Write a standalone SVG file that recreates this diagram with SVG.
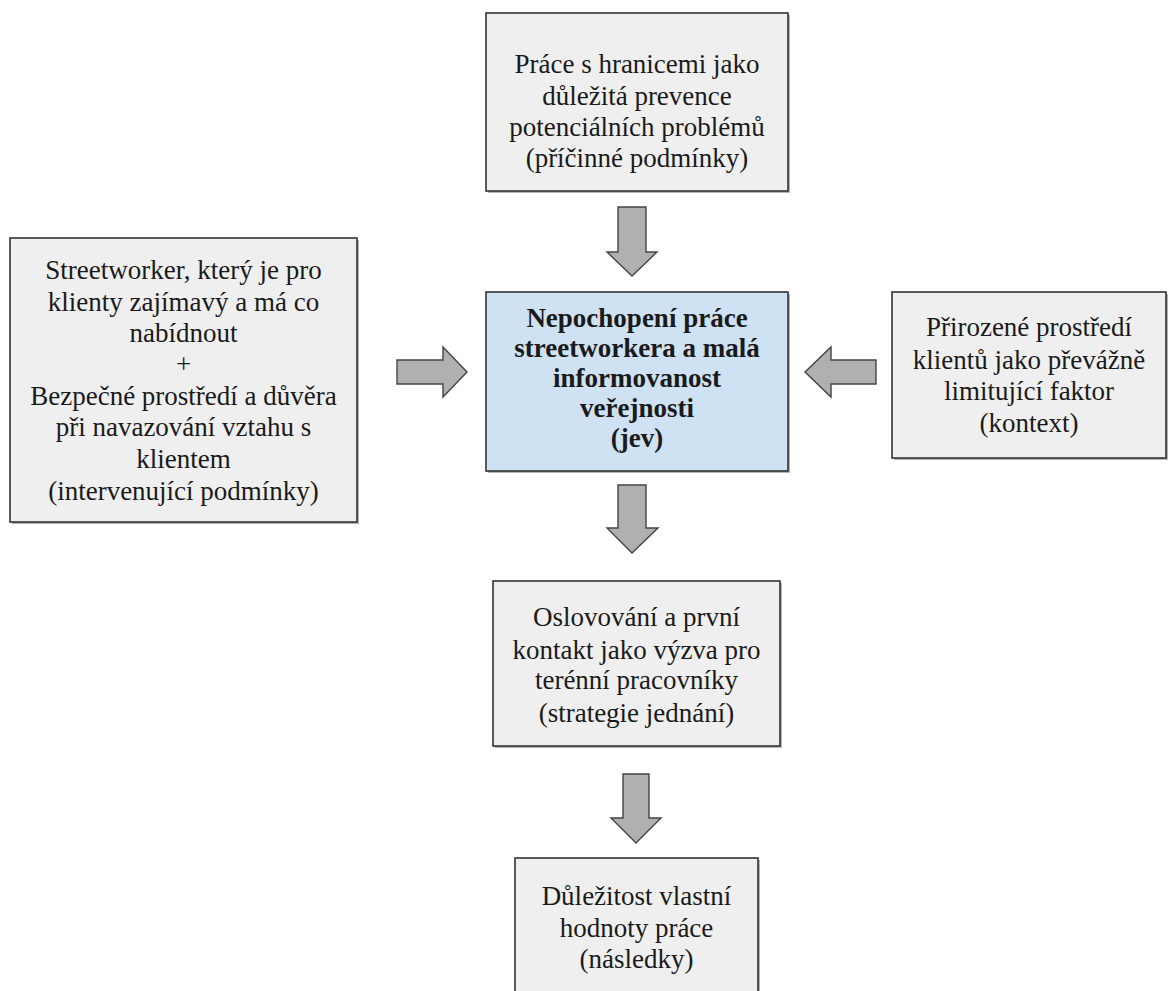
<svg xmlns="http://www.w3.org/2000/svg" width="1168" height="991" viewBox="0 0 1168 991">
<style>
.box{fill:#efefef;stroke:#333;stroke-width:1.6}
.center{fill:#cfe2f3;stroke:#333;stroke-width:1.6}
.shadow{fill:#b5b5b5}
.t{font-family:'Liberation Serif','DejaVu Serif',serif;font-size:27px;fill:#1a1a1a;text-anchor:middle}
.b{font-weight:bold}
.arrow{fill:#b0b0b0;stroke:#444;stroke-width:1.4;stroke-linejoin:miter}
</style>
<rect width="1168" height="991" fill="#ffffff"/>
<g id="node-top">
<rect class="shadow" x="488" y="15" width="302" height="178"/>
<rect class="box" x="486" y="13" width="302" height="178"/>
<text class="t" font-family="Liberation Serif, serif" x="637" y="73">Práce s hranicemi jako</text>
<text class="t" x="637" y="105">důležitá prevence</text>
<text class="t" x="637" y="136">potenciálních problémů</text>
<text class="t" x="637" y="167">(příčinné podmínky)</text>
</g>
<g id="node-left">
<rect class="shadow" x="12" y="240" width="347" height="284"/>
<rect class="box" x="10" y="238" width="347" height="284"/>
<text class="t" x="183.5" y="279">Streetworker, který je pro</text>
<text class="t" x="183.5" y="311">klienty zajímavý a má co</text>
<text class="t" x="183.5" y="342">nabídnout</text>
<text class="t" x="183.5" y="373">+</text>
<text class="t" x="183.5" y="405">Bezpečné prostředí a důvěra</text>
<text class="t" x="183.5" y="436">při navazování vztahu s</text>
<text class="t" x="183.5" y="468">klientem</text>
<text class="t" x="183.5" y="500">(intervenující podmínky)</text>
</g>
<g id="node-center">
<rect class="shadow" x="488" y="294" width="302" height="179"/>
<rect class="center" x="486" y="292" width="302" height="179"/>
<text class="t b" x="637" y="327">Nepochopení práce</text>
<text class="t b" x="637" y="357">streetworkera a malá</text>
<text class="t b" x="637" y="387">informovanost</text>
<text class="t b" x="637" y="417">veřejnosti</text>
<text class="t b" x="637" y="447">(jev)</text>
</g>
<g id="node-right">
<rect class="shadow" x="894" y="294" width="274" height="166"/>
<rect class="box" x="892" y="292" width="274" height="166"/>
<text class="t" x="1029" y="336">Přirozené prostředí</text>
<text class="t" x="1029" y="369">klientů jako převážně</text>
<text class="t" x="1029" y="400">limitující faktor</text>
<text class="t" x="1029" y="432">(kontext)</text>
</g>
<g id="node-strategy">
<rect class="shadow" x="495" y="583" width="287" height="165"/>
<rect class="box" x="493" y="581" width="287" height="165"/>
<text class="t" x="636.5" y="626">Oslovování a první</text>
<text class="t" x="636.5" y="659">kontakt jako výzva pro</text>
<text class="t" x="636.5" y="689">terénní pracovníky</text>
<text class="t" x="636.5" y="722">(strategie jednání)</text>
</g>
<g id="node-consequences">
<rect class="shadow" x="517" y="860" width="243" height="140"/>
<rect class="box" x="515" y="858" width="243" height="140"/>
<text class="t" x="636.5" y="905">Důležitost vlastní</text>
<text class="t" x="636.5" y="937">hodnoty práce</text>
<text class="t" x="636.5" y="968">(následky)</text>
</g>
<g id="connectors">
<path class="arrow" d="M618,207 H646 V252 H657 L632,276 L607,252 H618 Z"/>
<path class="arrow" d="M397,360 H443 V347 L467,372 L443,397 V384 H397 Z"/>
<path class="arrow" d="M876,360 H831 V347 L805,372 L831,397 V384 H876 Z"/>
<path class="arrow" d="M618,485 H646 V528 H658 L632,553 L607,528 H618 Z"/>
<path class="arrow" d="M623,774 H649 V818 H661 L636,843 L611,818 H623 Z"/>
</g>
</svg>
